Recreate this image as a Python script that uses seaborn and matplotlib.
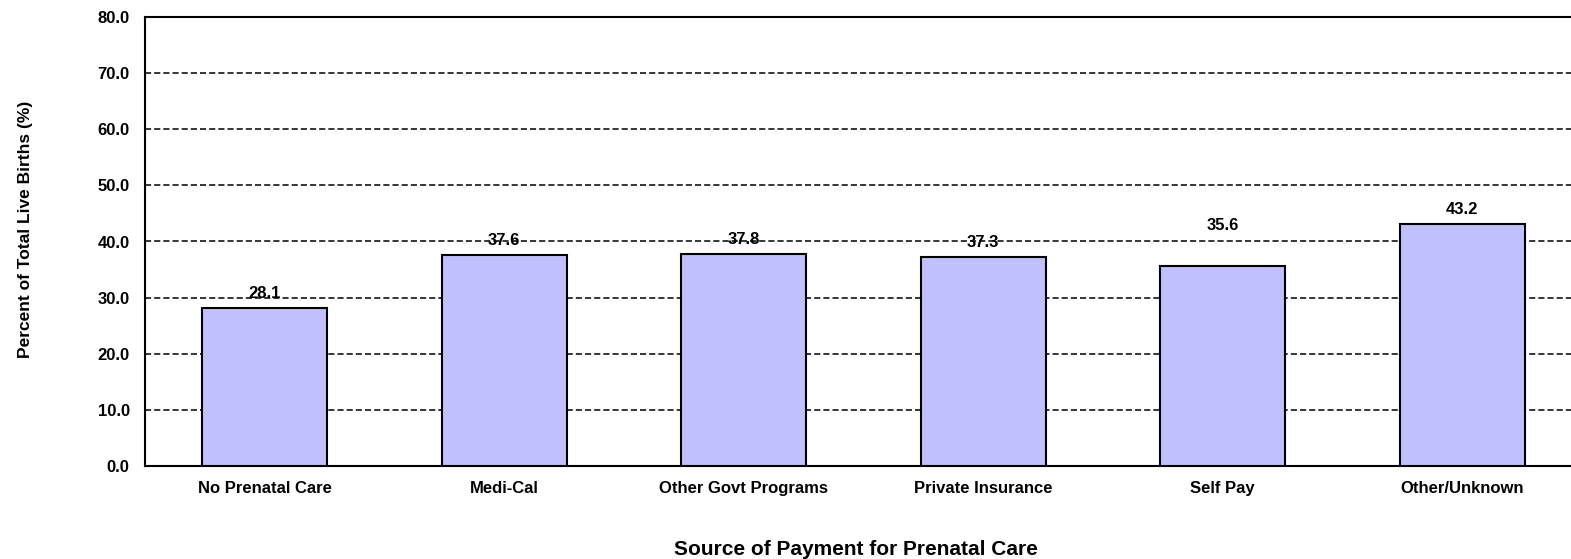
import matplotlib
matplotlib.use("Agg")
import numpy as np
import pandas as pd
import matplotlib.pyplot as plt
import seaborn as sns

# values
categories = ["No Prenatal Care", "Medi-Cal", "Other Govt Programs",
              "Private Insurance", "Self Pay", "Other/Unknown"]
percents = [28.1, 37.6, 37.8, 37.3, 35.6, 43.2]

# extra lift (points) for labels that sit higher in the original
label_lift = [0, 0, 0, 0, 19, 0]

sns.set_style("white")
plt.rcParams['font.family'] = ['Liberation Sans', 'DejaVu Sans']
plt.rcParams['font.weight'] = 'bold'
for k in ['text.color', 'axes.labelcolor', 'xtick.color', 'ytick.color']:
    plt.rcParams[k] = 'black'

df = pd.DataFrame({"source": categories, "pct": percents})

fig = plt.figure(figsize=(15.71, 5.59), dpi=100)
ax = fig.add_axes([145 / 1571, 93 / 559, 1437 / 1571, 449 / 559])

sns.barplot(data=df, x="source", y="pct", color="#C0C0FF", saturation=1,
            edgecolor="black", linewidth=1.5, width=0.52, ax=ax, zorder=3)

ax.set_xlim(-0.5, len(categories) - 0.5)
ax.set_ylim(0, 80)
ax.set_yticks(np.arange(0, 81, 10))
ax.set_yticklabels([f"{v:.1f}" for v in np.arange(0, 81, 10)],
                   fontsize=12, fontweight="bold")
ax.set_xticklabels(categories, fontsize=12, fontweight="bold")

# dashed gridlines (top one is the frame)
for v in np.arange(10, 80, 10):
    ax.axhline(v, color="black", linestyle=(0, (4, 2)), linewidth=1.1, zorder=1)

for s in ax.spines.values():
    s.set_color("black")
    s.set_linewidth(1.5)

ax.tick_params(axis="y", direction="out", length=5, width=1, pad=6)
ax.tick_params(axis="x", which="major", length=0, pad=11)
ax.set_xticks(np.arange(-0.5, len(categories)), minor=True)
ax.tick_params(axis="x", which="minor", direction="out", length=4, width=1)

for i, (v, lift) in enumerate(zip(percents, label_lift)):
    ax.annotate(f"{v:.1f}", (i, v), xytext=(0, 5 + lift), textcoords="offset points",
                ha="center", va="bottom", fontsize=12, fontweight="bold")

ax.set_xlabel("Source of Payment for Prenatal Care", fontsize=15, fontweight="bold")
ax.set_ylabel("Percent of Total Live Births (%)", fontsize=12.5, fontweight="bold")
ax.xaxis.set_label_coords((856 - 145) / 1437, (466 - 540) / 449)
ax.yaxis.set_label_coords((33 - 145) / 1437, (466 - 229) / 449)

fig.savefig("out.png", dpi=100)
